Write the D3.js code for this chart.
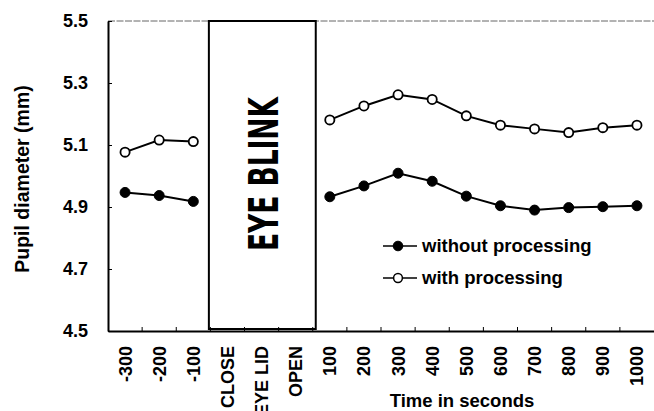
<!DOCTYPE html>
<html>
<head>
<meta charset="utf-8">
<script src="https://cdn.jsdelivr.net/npm/d3@7"></script>
<style>
  html, body { margin: 0; padding: 0; background: #fff; }
  svg { display: block; font-family: "Liberation Sans", Arial, Helvetica, sans-serif; }
</style>
</head>
<body>
<svg id="chart" width="654" height="411"></svg>
<script>
// Category slots along the time axis (blink phases sit in the middle)
const categories = ["-300", "-200", "-100", "CLOSE", "EYE LID", "OPEN",
  "100", "200", "300", "400", "500", "600", "700", "800", "900", "1000"];
const blinkPhases = ["CLOSE", "EYE LID", "OPEN"];
const preTimes = ["-300", "-200", "-100"];
const postTimes = ["100", "200", "300", "400", "500", "600", "700", "800", "900", "1000"];

// Pupil diameter (mm)
const withoutPre = [4.947, 4.937, 4.918];
const withPre = [5.077, 5.116, 5.111];
const withoutPost = [4.933, 4.968, 5.009, 4.983, 4.935, 4.904, 4.890, 4.898, 4.901, 4.904];
const withPost = [5.181, 5.226, 5.262, 5.247, 5.194, 5.164, 5.152, 5.140, 5.156, 5.164];

const yTicks = [4.5, 4.7, 4.9, 5.1, 5.3, 5.5];
const seriesNames = ["without processing", "with processing"];

const svg = d3.select("#chart");
const plotLeft = 108, plotRight = 654, plotTop = 21, plotBottom = 331;

const x = d3.scaleBand().domain(categories).range([plotLeft, plotRight]);
const y = d3.scaleLinear().domain([4.5, 5.5]).range([plotBottom, plotTop]);
const cx = d => x(d) + x.bandwidth() / 2;

// top frame line (faint)
svg.append("line")
  .attr("x1", plotLeft).attr("x2", plotRight).attr("y1", plotTop).attr("y2", plotTop)
  .attr("stroke", "#666").attr("stroke-width", 1).attr("stroke-dasharray", "7,1.5");

// eye blink panel
const bx0 = x(blinkPhases[0]) - 1.5;
const bx1 = x(blinkPhases[blinkPhases.length - 1]) + x.bandwidth() + 3;
svg.append("rect")
  .attr("x", bx0).attr("y", plotTop)
  .attr("width", bx1 - bx0).attr("height", plotBottom - plotTop - 2)
  .attr("fill", "#fff").attr("stroke", "#000").attr("stroke-width", 2);
svg.append("text")
  .attr("transform", `translate(${(bx0 + bx1) / 2 + 1},174) rotate(-90)`)
  .attr("text-anchor", "middle").attr("dy", "0.36em")
  .attr("font-family", "'Liberation Sans Narrow', 'DejaVu Sans Condensed', sans-serif")
  .attr("font-weight", "bold").attr("font-size", 41)
  .attr("textLength", 154).attr("lengthAdjust", "spacingAndGlyphs")
  .text("EYE BLINK");

// y axis
const yAxis = svg.append("g")
  .attr("transform", `translate(${plotLeft},0)`)
  .call(d3.axisLeft(y).tickValues(yTicks).tickFormat(d3.format(".1f"))
    .tickSizeInner(-4).tickSizeOuter(0).tickPadding(20));
yAxis.select(".domain").attr("stroke", "#000").attr("stroke-width", 2);
yAxis.selectAll(".tick line").attr("stroke-width", 1);
yAxis.selectAll(".tick text")
  .attr("font-size", 18).attr("font-weight", "bold").attr("fill", "#000")
  .attr("font-family", "'Liberation Sans', Arial, sans-serif");

// x axis
const xAxis = svg.append("g")
  .attr("transform", `translate(0,${plotBottom})`)
  .call(d3.axisBottom(x).tickSize(0).tickSizeOuter(0).tickPadding(0));
xAxis.select(".domain").attr("stroke", "#000").attr("stroke-width", 2);
xAxis.selectAll(".tick text")
  .attr("font-size", 18).attr("font-weight", "bold").attr("fill", "#000")
  .attr("font-family", "'Liberation Sans', Arial, sans-serif")
  .attr("text-anchor", "end")
  .attr("transform", "translate(0,15) rotate(-90)")
  .attr("x", 0).attr("y", 0).attr("dy", "0.36em");

// small upward ticks at category boundaries
svg.append("g").selectAll("line")
  .data(categories.slice(1))
  .join("line")
  .attr("x1", d => x(d)).attr("x2", d => x(d))
  .attr("y1", plotBottom).attr("y2", plotBottom - 4)
  .attr("stroke", "#000").attr("stroke-width", 1);

// axis titles
svg.append("text")
  .attr("transform", `translate(29,179) rotate(-90)`)
  .attr("text-anchor", "middle")
  .attr("font-size", 19.5).attr("font-weight", "bold")
  .text("Pupil diameter (mm)");
svg.append("text")
  .attr("x", 462).attr("y", 407)
  .attr("text-anchor", "middle")
  .attr("font-size", 18.5).attr("font-weight", "bold")
  .text("Time in seconds");

// series
const line = d3.line().x(d => cx(d.t)).y(d => y(d.v));
const pairs = (ts, vs) => ts.map((t, i) => ({ t, v: vs[i] }));
const segments = [
  { data: pairs(preTimes, withoutPre), filled: true },
  { data: pairs(postTimes, withoutPost), filled: true },
  { data: pairs(preTimes, withPre), filled: false },
  { data: pairs(postTimes, withPost), filled: false }
];

segments.forEach(s => {
  svg.append("path")
    .attr("d", line(s.data))
    .attr("fill", "none").attr("stroke", "#000").attr("stroke-width", 2);
});
segments.forEach(s => {
  svg.append("g").selectAll("circle")
    .data(s.data)
    .join("circle")
    .attr("cx", d => cx(d.t)).attr("cy", d => y(d.v))
    .attr("r", s.filled ? 5 : 4.6)
    .attr("fill", s.filled ? "#000" : "#fff")
    .attr("stroke", "#000").attr("stroke-width", s.filled ? 1 : 1.8);
});

// legend
const legend = svg.append("g").attr("transform", "translate(383,246)");
seriesNames.forEach((name, i) => {
  const g = legend.append("g").attr("transform", `translate(0,${i * 32})`);
  g.append("line").attr("x1", 0).attr("x2", 34).attr("y1", 0).attr("y2", 0)
    .attr("stroke", "#000").attr("stroke-width", 1.5);
  g.append("circle").attr("cx", 15).attr("cy", 0)
    .attr("r", i === 0 ? 4.8 : 4.4)
    .attr("fill", i === 0 ? "#000" : "#fff")
    .attr("stroke", "#000").attr("stroke-width", i === 0 ? 1 : 1.5);
  g.append("text").attr("x", 39).attr("y", 0).attr("dy", "0.35em")
    .attr("font-size", 18.5).attr("font-weight", "bold")
    .text(name);
});
</script>
</body>
</html>
